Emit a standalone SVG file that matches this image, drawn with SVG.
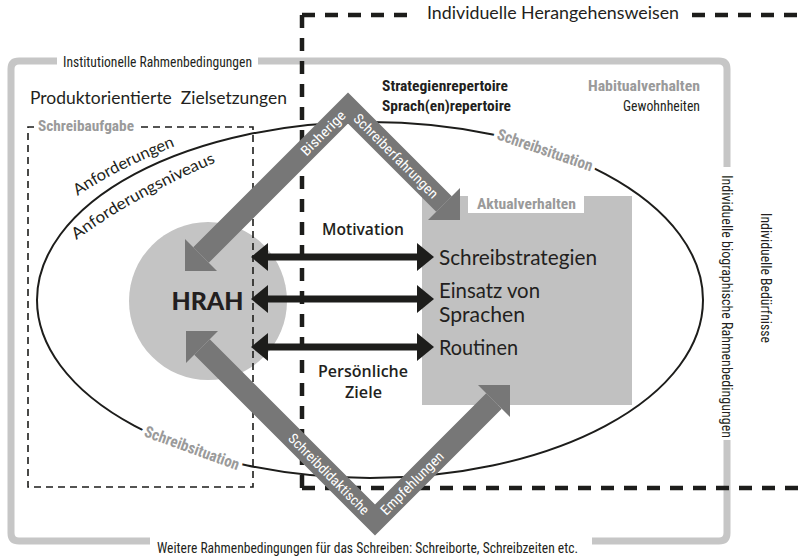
<svg xmlns="http://www.w3.org/2000/svg" width="801" height="556" viewBox="0 0 801 556">
<style>
.geo{font-family:Lato,'Noto Sans','Liberation Sans',sans-serif;fill:#231f20}
.cond{font-family:'Liberation Sans Narrow','Roboto Condensed',Roboto,'Liberation Sans',sans-serif;fill:#231f20}
.semi{font-family:'Open Sans','Noto Sans',sans-serif;font-weight:600;fill:#231f20}
.b{font-weight:bold}
.gray{fill:#9a9a9a;font-weight:bold}
.wht{fill:#fff}
.halo{stroke:#fff;stroke-width:8;paint-order:stroke;stroke-linejoin:round}
.frame{fill:none;stroke:#c6c6c6;stroke-width:7}
.dash{fill:none;stroke:#1d1d1b;stroke-width:4.5;stroke-dasharray:13 10}
.thin{fill:none;stroke:#1d1d1b;stroke-width:1.6;stroke-dasharray:7 5}
.band{fill:none;stroke:#777;stroke-width:22;stroke-linejoin:miter}
.head{fill:#777}
.dbl{stroke:#1d1d1b;stroke-width:7;marker-start:url(#ah);marker-end:url(#ah)}
</style>
<defs>
<marker id="ah" markerUnits="userSpaceOnUse" viewBox="0 0 17 28" refX="6" refY="14" markerWidth="17" markerHeight="28" orient="auto-start-reverse"><path d="M0,0 L17,14 L0,28 z" fill="#1d1d1b"/></marker>
<path id="pAnf" d="M76,197 Q118,168 183,143"/>
<path id="pNiv" d="M75,241 Q132,198 221,160"/>
</defs>
<rect width="801" height="556" fill="#fff"/>

<g id="institutionelle-rahmen">
<path class="frame" d="M57,61 H19 Q11,61 11,69 V533 Q11,541 19,541 H150"/>
<path class="frame" d="M258,61 H719 Q727,61 727,69 V167"/>
<path class="frame" d="M727,440 V533 Q727,541 719,541 H592"/>
<text class="cond" font-size="14.5" x="63" y="66.5" textLength="189" lengthAdjust="spacingAndGlyphs">Institutionelle Rahmenbedingungen</text>
<text class="cond" font-size="14.5" transform="translate(722,175) rotate(90)" textLength="263" lengthAdjust="spacingAndGlyphs">Individuelle biographische Rahmenbedingungen</text>
<text class="cond" font-size="15" x="157" y="552.5" textLength="421" lengthAdjust="spacingAndGlyphs">Weitere Rahmenbedingungen für das Schreiben: Schreiborte, Schreibzeiten etc.</text>
</g>

<g id="schreibsituation">
<ellipse cx="370" cy="300" rx="333" ry="178" fill="none" stroke="#1d1d1b" stroke-width="2"/>
<text class="cond gray halo" font-size="16" text-anchor="middle" dy="5.5" transform="translate(545,150) rotate(19)" textLength="100" lengthAdjust="spacingAndGlyphs">Schreibsituation</text>
<text class="cond gray halo" font-size="16" text-anchor="middle" dy="5.5" transform="translate(192,448) rotate(20)" textLength="100" lengthAdjust="spacingAndGlyphs">Schreibsituation</text>
<text class="geo" font-size="16"><textPath href="#pAnf" startOffset="2" textLength="110" lengthAdjust="spacingAndGlyphs">Anforderungen</textPath></text>
<text class="geo" font-size="16"><textPath href="#pNiv" startOffset="2" textLength="160" lengthAdjust="spacingAndGlyphs">Anforderungsniveaus</textPath></text>
</g>

<g id="hrah">
<circle cx="208" cy="301" r="79" fill="#c4c4c4"/>
<text class="geo" font-size="24" font-weight="900" x="207.5" y="310" text-anchor="middle" textLength="72" lengthAdjust="spacingAndGlyphs">HRAH</text>
</g>

<g id="aktualverhalten">
<rect x="422" y="196" width="210" height="209" fill="#c1c1c1"/>
<rect x="468" y="196" width="116" height="17" fill="#fff"/>
<text class="cond gray" font-size="14" x="477" y="209" textLength="99" lengthAdjust="spacingAndGlyphs">Aktualverhalten</text>
<text class="geo" font-size="21" x="439" y="265" textLength="158" lengthAdjust="spacingAndGlyphs">Schreibstrategien</text>
<text class="geo" font-size="21" x="439" y="298" textLength="101" lengthAdjust="spacingAndGlyphs">Einsatz von</text>
<text class="geo" font-size="21" x="439" y="322" textLength="86" lengthAdjust="spacingAndGlyphs">Sprachen</text>
<text class="geo" font-size="21" x="439" y="355" textLength="79" lengthAdjust="spacingAndGlyphs">Routinen</text>
</g>

<g id="schreibaufgabe">
<path class="thin" d="M34,127 H28 V487 H253 V127 H141"/>
<text class="cond gray" font-size="14" x="38" y="131" textLength="96" lengthAdjust="spacingAndGlyphs">Schreibaufgabe</text>
<text class="geo" font-size="17" x="30" y="103.5" textLength="257" lengthAdjust="spacingAndGlyphs" style="white-space:pre">Produktorientierte  Zielsetzungen</text>
</g>

<g id="individuelle-herangehensweisen">
<path class="dash" d="M302,15 H410"/>
<path class="dash" d="M302,15 V488"/>
<path class="dash" d="M302,488 H801"/>
<path class="dash" d="M692,15 H801"/>
<text class="geo" font-size="16.5" x="427" y="18.5" textLength="252" lengthAdjust="spacingAndGlyphs">Individuelle Herangehensweisen</text>
<text class="cond" font-size="14.5" transform="translate(761,213) rotate(90)" textLength="130" lengthAdjust="spacingAndGlyphs">Individuelle Bedürfnisse</text>
<text class="cond b" font-size="15" x="382" y="91" textLength="126" lengthAdjust="spacingAndGlyphs">Strategienrepertoire</text>
<text class="cond b" font-size="15" x="382" y="111" textLength="129" lengthAdjust="spacingAndGlyphs">Sprach(en)repertoire</text>
<text class="cond gray" font-size="15" x="700" y="91" text-anchor="end" textLength="112" lengthAdjust="spacingAndGlyphs">Habitualverhalten</text>
<text class="cond" font-size="15" x="700" y="111" text-anchor="end" textLength="77" lengthAdjust="spacingAndGlyphs">Gewohnheiten</text>
</g>

<g id="connectors">
<line class="dbl" x1="262" y1="257" x2="423" y2="257"/>
<line class="dbl" x1="262" y1="299" x2="423" y2="299"/>
<line class="dbl" x1="262" y1="347" x2="423" y2="347"/>
<polyline class="band" points="201,255 348,108 444,204"/>
<polygon class="head" points="185,271 185,239 217,271"/>
<polygon class="head" points="460,220 460,188 428,220"/>
<polyline class="band" points="202,347 375,520 494,401"/>
<polygon class="head" points="186,331 218,331 186,363"/>
<polygon class="head" points="510,385 478,385 510,417"/>
<text class="cond wht" font-size="14" text-anchor="middle" dy="5" transform="translate(323,133) rotate(-45)" textLength="57" lengthAdjust="spacingAndGlyphs">Bisherige</text>
<text class="cond wht" font-size="14" text-anchor="middle" dy="5" transform="translate(396,156) rotate(45)" textLength="113" lengthAdjust="spacingAndGlyphs">Schreiberfahrungen</text>
<text class="cond wht" font-size="14" text-anchor="middle" dy="5" transform="translate(329,474) rotate(45)" textLength="108" lengthAdjust="spacingAndGlyphs">Schreibdidaktische</text>
<text class="cond wht" font-size="14" text-anchor="middle" dy="5" transform="translate(412,483) rotate(-45)" textLength="83" lengthAdjust="spacingAndGlyphs">Empfehlungen</text>
</g>

<g id="faktoren">
<text class="semi" font-size="17" x="363" y="235" text-anchor="middle" textLength="82" lengthAdjust="spacingAndGlyphs">Motivation</text>
<text class="semi" font-size="16.5" x="363" y="377" text-anchor="middle" textLength="90" lengthAdjust="spacingAndGlyphs">Persönliche</text>
<text class="semi" font-size="16.5" x="363.5" y="398" text-anchor="middle" textLength="37" lengthAdjust="spacingAndGlyphs">Ziele</text>
</g>
</svg>
